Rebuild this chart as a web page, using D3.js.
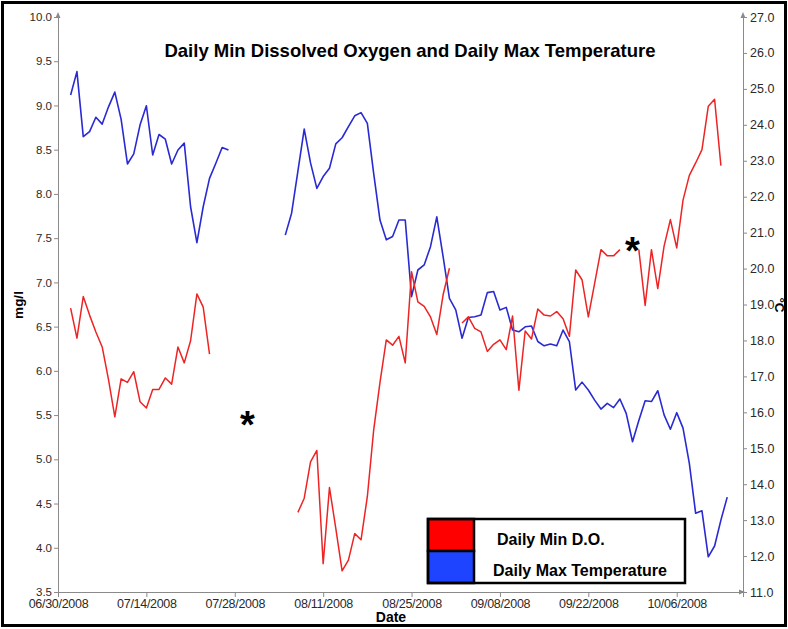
<!DOCTYPE html>
<html>
<head>
<meta charset="utf-8">
<script src="https://cdn.jsdelivr.net/npm/d3@7/dist/d3.min.js"></script>
<style>
  html, body { margin: 0; padding: 0; background: #fff; }
  svg { display: block; font-family: Arial, "Liberation Sans", sans-serif; }
</style>
</head>
<body>
<svg id="chart" width="788" height="629"></svg>
<script>
// Daily series, one value per day starting at seriesStart; null = no record
const seriesStart = "2008-07-02";

const minDO = [
  6.71, 6.37, 6.84, 6.63, 6.44, 6.27, 5.90, 5.48, 5.91, 5.87, 5.99, 5.65, 5.58, 5.79, 5.79, 5.92, 5.85, 6.27, 6.09, 6.34, 6.87, 6.72, 6.19,
  null, null, null, null, null, null, null, null, null, null, null, null, null,
  4.40, 4.56, 4.97, 5.10, 3.82, 4.68, 4.22, 3.74, 3.86, 4.16, 4.09, 4.58, 5.33, 5.87, 6.35, 6.29, 6.39, 6.09, 7.12, 6.78, 6.73, 6.61, 6.41, 6.86, 7.16,
  null,
  6.54, 6.61, 6.48, 6.44, 6.22, 6.30, 6.35, 6.24, 6.62, 5.78, 6.45, 6.36, 6.70, 6.63, 6.62, 6.67, 6.59, 6.39, 7.14, 7.03, 6.61, 6.99, 7.37, 7.30, 7.30, 7.37,
  null, null,
  7.37, 6.74, 7.37, 6.93, 7.41, 7.71, 7.39, 7.93, 8.21, 8.35, 8.50, 8.99, 9.07, 8.32,
  null
];

const maxTemp = [
  24.83, 25.48, 23.67, 23.81, 24.21, 24.02, 24.50, 24.91, 24.15, 22.91, 23.19, 24.00, 24.53, 23.16, 23.73, 23.60, 22.91, 23.30, 23.49, 21.72, 20.72, 21.72, 22.51, 22.93, 23.37, 23.30,
  null, null, null, null, null, null, null, null,
  20.93, 21.54, 22.71, 23.88, 22.94, 22.23, 22.56, 22.79, 23.47, 23.64, 23.95, 24.25, 24.34, 24.04, 22.65, 21.35, 20.80, 20.89, 21.35, 21.35,
  19.22, 19.96, 20.10, 20.61, 21.44, 20.33, 19.17, 18.85, 18.06, 18.64, 18.66, 18.71, 19.33, 19.36, 18.85, 18.92, 18.29, 18.24, 18.38, 18.40,
  17.97, 17.85, 17.90, 17.85, 18.29, 17.97, 16.62, 16.84, 16.62, 16.34, 16.09, 16.25, 16.13, 16.37, 15.97, 15.18, 15.77, 16.32, 16.30, 16.60,
  15.93, 15.53, 15.99, 15.56, 14.58, 13.19, 13.26, 11.98, 12.28, 13.00, 13.64
];

// Axis tick labels
const dateTicks = ["06/30/2008", "07/14/2008", "07/28/2008", "08/11/2008", "08/25/2008", "09/08/2008", "09/22/2008", "10/06/2008"];
const doTicks = [3.5, 4.0, 4.5, 5.0, 5.5, 6.0, 6.5, 7.0, 7.5, 8.0, 8.5, 9.0, 9.5, 10.0];
const tempTicks = [11, 12, 13, 14, 15, 16, 17, 18, 19, 20, 21, 22, 23, 24, 25, 26, 27];

// Gap notes (date, mg/l) shown as asterisks
const gapDates = ["07/30/2008", "09/29/2008"];
const gapLevels = [5.44, 7.41];

const legendLabels = ["Daily Min D.O.", "Daily Max Temperature"];
const seriesColors = ["#ee2424", "#2a2ad2"];
const swatchColors = ["#ff0000", "#1e44ff"];

const parseMDY = d3.timeParse("%m/%d/%Y");
const start = d3.timeParse("%Y-%m-%d")(seriesStart);
const dayAt = i => d3.timeDay.offset(start, i);

const svg = d3.select("#chart");

const x = d3.scaleTime()
  .domain([parseMDY("06/30/2008"), d3.timeHour.offset(parseMDY("10/16/2008"), 12)])
  .range([58, 743]);
const yL = d3.scaleLinear().domain([3.5, 10]).range([592, 17]);
const yR = d3.scaleLinear().domain([11, 27]).range([592, 17]);

const axisColor = "#8a8a8a";
const labelColor = "#2a2a2a";

// Outer frame
svg.append("rect")
  .attr("x", 2.5).attr("y", 2.5).attr("width", 783).attr("height", 623)
  .attr("fill", "none").attr("stroke", "#000").attr("stroke-width", 3);

// Title
svg.append("text")
  .attr("x", 410).attr("y", 57)
  .attr("text-anchor", "middle")
  .attr("font-size", 18.5).attr("font-weight", "bold")
  .text("Daily Min Dissolved Oxygen and Daily Max Temperature");

function styleAxis(g, fontSize) {
  g.select(".domain").attr("stroke", axisColor);
  g.selectAll(".tick line").attr("stroke", axisColor);
  g.selectAll(".tick text").attr("fill", labelColor).attr("font-size", fontSize).attr("font-family", "Arial, 'Liberation Sans', sans-serif");
}

// Left axis (mg/l)
const gL = svg.append("g").attr("transform", "translate(58,0)")
  .call(d3.axisLeft(yL).tickValues(doTicks).tickFormat(d3.format(".1f")).tickSizeOuter(0).tickSize(4).tickPadding(2));
styleAxis(gL, 11.5);

// Right axis (°C)
const gR = svg.append("g").attr("transform", "translate(743,0)")
  .call(d3.axisRight(yR).tickValues(tempTicks).tickFormat(d3.format(".1f")).tickSizeOuter(0).tickSize(4).tickPadding(3));
styleAxis(gR, 12.5);

// Bottom axis (dates)
const gB = svg.append("g").attr("transform", "translate(0,592)")
  .call(d3.axisBottom(x).tickValues(dateTicks.map(parseMDY)).tickFormat(d3.timeFormat("%m/%d/%Y")).tickSizeOuter(0).tickSize(5).tickPadding(2));
styleAxis(gB, 12.5);
gB.selectAll(".tick text").attr("letter-spacing", "-0.3");

// Axis arrowheads
const arrow = (pts) => svg.append("path").attr("d", d3.line()(pts) + "Z").attr("fill", axisColor);
arrow([[55.5, 18], [58, 12], [60.5, 18]]);
arrow([[740.5, 18], [743, 12], [745.5, 18]]);
arrow([[739, 589.5], [745, 592], [739, 594.5]]);

// Axis titles
svg.append("text").attr("x", 391).attr("y", 622).attr("text-anchor", "middle")
  .attr("font-size", 14).attr("font-weight", "bold").text("Date");
svg.append("text").attr("transform", "translate(23,305) rotate(-90)").attr("text-anchor", "middle")
  .attr("font-size", 13.5).attr("font-weight", "bold").text("mg/l");
svg.append("text").attr("transform", "translate(775,305) rotate(90)").attr("text-anchor", "middle")
  .attr("font-size", 13.5).attr("font-weight", "bold").text("°C");

// Series lines
const lineDO = d3.line().defined(d => d != null).x((d, i) => x(dayAt(i))).y(d => yL(d));
const lineT = d3.line().defined(d => d != null).x((d, i) => x(dayAt(i))).y(d => yR(d));

svg.append("path").datum(maxTemp).attr("d", lineT)
  .attr("fill", "none").attr("stroke", seriesColors[1]).attr("stroke-width", 1.6).attr("stroke-linejoin", "round");
svg.append("path").datum(minDO).attr("d", lineDO)
  .attr("fill", "none").attr("stroke", seriesColors[0]).attr("stroke-width", 1.5).attr("stroke-linejoin", "round");

// Asterisks marking data gaps
svg.selectAll(".gap").data(gapDates).join("text")
  .attr("class", "gap")
  .attr("x", d => x(parseMDY(d)))
  .attr("y", (d, i) => yL(gapLevels[i]) + 18)
  .attr("text-anchor", "middle")
  .attr("font-size", 38).attr("font-weight", "bold")
  .text("*");

// Legend
const lg = svg.append("g").attr("transform", "translate(428,519)");
lg.append("rect").attr("width", 257).attr("height", 64).attr("fill", "#fff");
legendLabels.forEach((lab, i) => {
  lg.append("rect").attr("x", 0).attr("y", i * 32).attr("width", 46).attr("height", 32)
    .attr("fill", swatchColors[i]).attr("stroke", "#000").attr("stroke-width", 2.5);
  lg.append("text").attr("x", i === 0 ? 69 : 65).attr("y", i * 31 + 26)
    .attr("font-size", 16).attr("font-weight", "bold").text(lab);
});
lg.append("rect").attr("width", 257).attr("height", 64).attr("fill", "none")
  .attr("stroke", "#000").attr("stroke-width", 2.5);
</script>
</body>
</html>
